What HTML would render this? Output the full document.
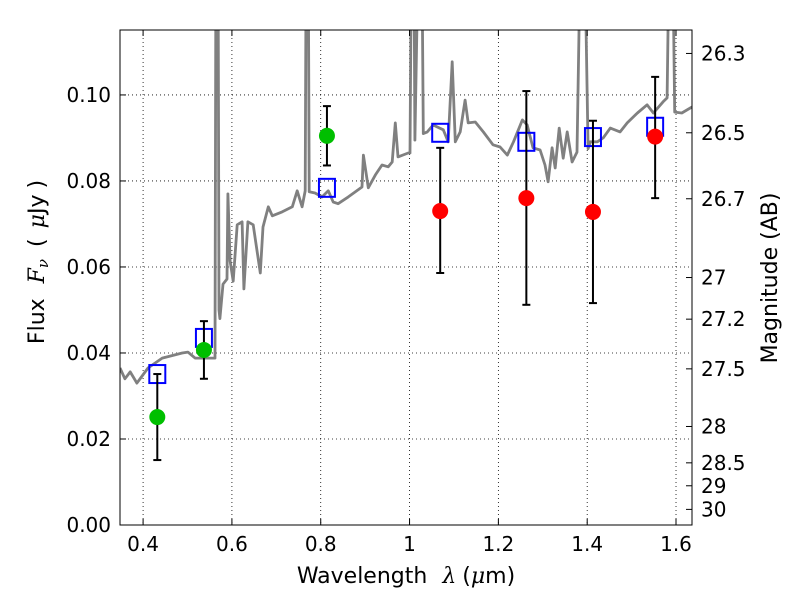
<!DOCTYPE html>
<html><head><meta charset="utf-8">
<style>
body{margin:0;background:#fff;}
svg text{font-family:"DejaVu Sans","Liberation Sans",sans-serif;font-size:20px;fill:#000;}
svg text.title{font-size:22px;}
.m{font-family:"DejaVu Serif","Liberation Serif",serif;font-style:italic;}
</style></head>
<body>
<svg id="chart" width="800" height="600" viewBox="0 0 800 600" xmlns="http://www.w3.org/2000/svg">
<defs><clipPath id="clip"><rect x="120" y="30" width="572" height="495"/></clipPath></defs>
<rect x="0" y="0" width="800" height="600" fill="#fff"/>
<g id="grid"></g>
<g id="spec" clip-path="url(#clip)"></g>
<g id="marks" clip-path="url(#clip)"></g>
<rect x="120" y="30" width="572" height="495" fill="none" stroke="#000" stroke-width="1"/>
<g id="axes"></g>
<text class="title" x="406" y="583" text-anchor="middle">Wavelength  <tspan class="m" dx="8">λ</tspan><tspan dx="6">(</tspan><tspan class="m">μ</tspan>m)</text>
<text class="title" transform="translate(44,262) rotate(-90)" text-anchor="middle">Flux <tspan class="m" dx="8">F</tspan><tspan class="m" font-size="15" dy="4">ν</tspan><tspan dy="-4" dx="12">(</tspan><tspan class="m" dx="10">μ</tspan>Jy<tspan dx="6">)</tspan></text>
<text class="title" transform="translate(777,278) rotate(-90)" text-anchor="middle">Magnitude (AB)</text>
</svg>
<script>
const specLam=[0.348,0.359,0.371,0.386,0.411,0.443,0.488,0.501,0.517,0.546,0.562,0.564,0.569,0.571,0.573,0.580,0.589,0.591,0.596,0.603,0.612,0.623,0.627,0.636,0.648,0.664,0.670,0.682,0.691,0.713,0.736,0.747,0.758,0.765,0.767,0.772,0.774,0.787,0.803,0.817,0.828,0.839,0.862,0.893,0.896,0.907,0.923,0.938,0.952,0.961,0.968,0.974,0.997,1.001,1.004,1.010,1.012,1.019,1.028,1.031,1.040,1.053,1.076,1.087,1.096,1.103,1.114,1.125,1.132,1.148,1.166,1.188,1.204,1.220,1.234,1.254,1.265,1.278,1.294,1.305,1.312,1.321,1.328,1.337,1.346,1.355,1.366,1.377,1.384,1.395,1.402,1.407,1.423,1.436,1.452,1.474,1.490,1.513,1.535,1.549,1.571,1.580,1.584,1.593,1.597,1.613,1.636];
const specFlux=[0.0365,0.0340,0.0356,0.0330,0.0365,0.0388,0.0400,0.0402,0.0388,0.0388,0.0388,0.13,0.13,0.050,0.048,0.056,0.0572,0.077,0.0614,0.0567,0.0698,0.0705,0.0549,0.0705,0.0698,0.0586,0.0693,0.0740,0.0719,0.0728,0.0740,0.0777,0.0740,0.0777,0.13,0.13,0.0775,0.0772,0.0763,0.0777,0.0751,0.0747,0.0763,0.0786,0.0860,0.0784,0.0814,0.0837,0.0833,0.0844,0.0935,0.0856,0.0865,0.0865,0.13,0.13,0.0895,0.13,0.13,0.091,0.0914,0.0930,0.0919,0.0891,0.1077,0.0891,0.0914,0.0988,0.0935,0.0937,0.0914,0.0884,0.0879,0.0860,0.0891,0.0942,0.0930,0.0877,0.0872,0.0837,0.0798,0.0877,0.0830,0.0923,0.0853,0.0914,0.0844,0.0867,0.13,0.13,0.0875,0.0891,0.0891,0.0900,0.0923,0.0914,0.0935,0.0958,0.0977,0.0958,0.0984,0.0993,0.13,0.13,0.0960,0.0958,0.0972];
const greenLam=[0.432,0.537,0.814];
const greenFlux=[0.0251,0.0407,0.0905];
const greenLo=[0.0151,0.0340,0.0836];
const greenHi=[0.0351,0.0474,0.0974];
const redLam=[1.069,1.263,1.413,1.553];
const redFlux=[0.0730,0.0760,0.0728,0.0903];
const redLo=[0.0586,0.0512,0.0516,0.0760];
const redHi=[0.0877,0.1009,0.0940,0.1042];
const modelLam=[0.432,0.537,0.814,1.069,1.263,1.413,1.553];
const modelFlux=[0.0351,0.0435,0.0784,0.0912,0.0891,0.0902,0.0926];
const xTicks=[0.4,0.6,0.8,1.0,1.2,1.4,1.6];
const xTickLabels=["0.4","0.6","0.8","1","1.2","1.4","1.6"];
const yTicks=[0,0.02,0.04,0.06,0.08,0.10];
const yTickLabels=["0.00","0.02","0.04","0.06","0.08","0.10"];
const magTicks=[26.3,26.5,26.7,27,27.2,27.5,28,28.5,29,30];

const X0=120,X1=692,Y0=525,Y1=30,xmin=0.348,xmax=1.636,ymin=0,ymax=0.1151;
const sx=v=>X0+(v-xmin)/(xmax-xmin)*(X1-X0);
const sy=v=>Y0-(v-ymin)/(ymax-ymin)*(Y0-Y1);
const NS="http://www.w3.org/2000/svg";
function mk(tag,attrs,parent){const e=document.createElementNS(NS,tag);for(const k in attrs)e.setAttribute(k,attrs[k]);parent.appendChild(e);return e;}
const grid=document.getElementById('grid'),axes=document.getElementById('axes'),spec=document.getElementById('spec'),marks=document.getElementById('marks');

xTicks.forEach((t,i)=>{
  const x=sx(t);
  const g=mk('line',{x1:x,x2:x,y1:Y1,y2:Y0,stroke:'#000','stroke-width':0.8,'stroke-dasharray':'1,3'},grid);
  
  
  mk('line',{x1:x,x2:x,y1:Y0,y2:Y0-6,stroke:'#000'},axes);
  mk('line',{x1:x,x2:x,y1:Y1,y2:Y1+6,stroke:'#000'},axes);
  const tx=mk('text',{x:x,y:Y0+26,'text-anchor':'middle'},axes);
  tx.textContent=xTickLabels[i];
  
  
});
yTicks.forEach((t,i)=>{
  const y=sy(t);
  const g=mk('line',{x1:X0,x2:X1,y1:y,y2:y,stroke:'#000','stroke-width':0.8,'stroke-dasharray':'1,3'},grid);
  
  
  mk('line',{x1:X0,x2:X0+6,y1:y,y2:y,stroke:'#000'},axes);
  const tx=mk('text',{x:X0-9,y:y+7,'text-anchor':'end'},axes);
  tx.textContent=yTickLabels[i];
  
  
});
magTicks.forEach(m=>{
  const f=Math.pow(10,(23.9-m)/2.5);
  const y=sy(f);
  mk('line',{x1:X1-6,x2:X1,y1:y,y2:y,stroke:'#000'},axes);
  const tx=mk('text',{x:X1+9,y:y+7,'text-anchor':'start'},axes);
  tx.textContent=String(m);
  
  
});

const pts=specLam.map((l,i)=>sx(l).toFixed(1)+','+sy(specFlux[i]).toFixed(1)).join(' ');
const pl=mk('polyline',{points:pts,fill:'none',stroke:'#808080','stroke-width':2.8,'stroke-linejoin':'round'},spec);



function errbar(l,lo,hi){
  const x=sx(l);
  const e=mk('g',{},marks);
  
  
  mk('line',{x1:x,x2:x,y1:sy(lo),y2:sy(hi),stroke:'#000','stroke-width':2},e);
  mk('line',{x1:x-4,x2:x+4,y1:sy(lo),y2:sy(lo),stroke:'#000','stroke-width':2},e);
  mk('line',{x1:x-4,x2:x+4,y1:sy(hi),y2:sy(hi),stroke:'#000','stroke-width':2},e);
}
modelLam.forEach((l,i)=>{
  const r=mk('rect',{x:sx(l)-8,y:sy(modelFlux[i])-9,width:16,height:18,fill:'none',stroke:'#0000ff','stroke-width':2},marks);
  
  
});
greenLam.forEach((l,i)=>{
  errbar(l,greenLo[i],greenHi[i]);
  const c=mk('circle',{cx:sx(l),cy:sy(greenFlux[i]),r:8,fill:'#00bf00'},marks);
  
  
});
redLam.forEach((l,i)=>{
  errbar(l,redLo[i],redHi[i]);
  const c=mk('circle',{cx:sx(l),cy:sy(redFlux[i]),r:8,fill:'#ff0000'},marks);
  
  
});
</script>
</body></html>
